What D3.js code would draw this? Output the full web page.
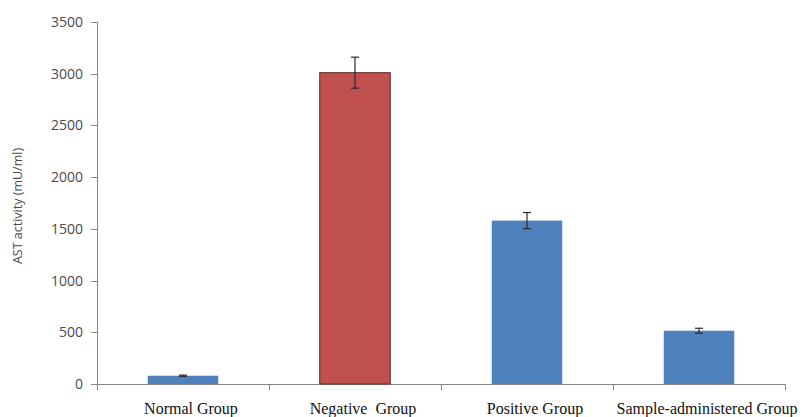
<!DOCTYPE html>
<html lang="en">
<head>
    <meta charset="UTF-8">
    <title>AST activity</title>
    <script src="https://d3js.org/d3.v7.min.js"></script>
    <style>
        body { margin: 0; background: #fff; }
        .axis path, .axis line { fill: none; stroke: #868686; shape-rendering: crispEdges; }
        .axis--y text { font-family: "Open Sans", sans-serif; font-size: 14px; fill: #4a4a4a; }
        .axis--x text { font-family: "Liberation Serif", "Times New Roman", serif; font-size: 16px; fill: #111; }
        .ylabel { font-family: "Open Sans", sans-serif; font-size: 12.5px; fill: #4a4a4a; }
    </style>
</head>
<body>
    <svg id="chart" width="809" height="417"></svg>

    <script>
        // data
        var groups = ["Normal Group", "Negative  Group", "Positive Group", "Sample-administered Group"];
        var values = [80, 3010, 1580, 515];
        var errors = [6, 150, 78, 24];
        var colors = ["#4f81bd", "#c0504d", "#4f81bd", "#4f81bd"];
        var yTicks = [0, 500, 1000, 1500, 2000, 2500, 3000, 3500];

        var data = groups.map(function(g, i) {
            return { group: g, value: values[i], err: errors[i], color: colors[i] };
        });

        var svg = d3.select("#chart"),
            margin = {top: 22, right: 24, bottom: 33, left: 97},
            width = +svg.attr("width") - margin.left - margin.right,
            height = +svg.attr("height") - margin.top - margin.bottom;

        var x = d3.scaleBand().domain(groups).range([0, width]).padding(0),
            y = d3.scaleLinear().domain([0, 3500]).range([height, 0]);

        var barW = x.bandwidth() * 0.41;

        var g = svg.append("g")
            .attr("transform", "translate(" + margin.left + "," + margin.top + ")");

        // y axis
        g.append("g")
            .attr("class", "axis axis--y")
            .call(d3.axisLeft(y).tickValues(yTicks).tickSize(6).tickPadding(8).tickFormat(d3.format("d")));

        // x axis: ticks at category boundaries
        var xAxis = g.append("g")
            .attr("class", "axis axis--x")
            .attr("transform", "translate(0," + height + ")");
        xAxis.append("line").attr("x1", 0).attr("x2", width);
        xAxis.selectAll(".bound")
            .data(d3.range(groups.length + 1))
            .enter().append("line")
            .attr("class", "bound")
            .attr("x1", function(i) { return i * x.step(); })
            .attr("x2", function(i) { return i * x.step(); })
            .attr("y1", 0).attr("y2", 6);
        xAxis.selectAll("text")
            .data(groups)
            .enter().append("text")
            .attr("x", function(d) { return x(d) + x.bandwidth() / 2 + 8; })
            .attr("y", 30)
            .attr("text-anchor", "middle")
            .style("white-space", "pre")
            .text(function(d) { return d; });

        // bars
        g.selectAll(".bar")
            .data(data)
            .enter().append("rect")
            .attr("class", "bar")
            .attr("x", function(d) { return x(d.group) + (x.bandwidth() - barW) / 2; })
            .attr("y", function(d) { return y(d.value); })
            .attr("width", barW)
            .attr("height", function(d) { return height - y(d.value); })
            .attr("fill", function(d) { return d.color; })
            .attr("stroke", function(d) { return d.color === "#c0504d" ? "#5a2a28" : "none"; })
            .attr("stroke-width", 1);

        // error bars
        var eb = g.selectAll(".err")
            .data(data)
            .enter().append("g")
            .attr("class", "err")
            .attr("stroke", "#2a2a2a")
            .attr("stroke-width", 1.2);
        eb.append("line")
            .attr("x1", function(d) { return x(d.group) + x.bandwidth() / 2; })
            .attr("x2", function(d) { return x(d.group) + x.bandwidth() / 2; })
            .attr("y1", function(d) { return y(d.value + d.err); })
            .attr("y2", function(d) { return y(d.value - d.err); });
        eb.selectAll(".cap")
            .data(function(d) { return [d.value + d.err, d.value - d.err].map(function(v) { return {g: d.group, v: v}; }); })
            .enter().append("line")
            .attr("class", "cap")
            .attr("x1", function(c) { return x(c.g) + x.bandwidth() / 2 - 4; })
            .attr("x2", function(c) { return x(c.g) + x.bandwidth() / 2 + 4; })
            .attr("y1", function(c) { return y(c.v); })
            .attr("y2", function(c) { return y(c.v); });

        // Y-axis label
        svg.append("text")
            .attr("class", "ylabel")
            .attr("transform", "translate(22," + (margin.top + height / 2 + 3) + ") rotate(-90)")
            .attr("text-anchor", "middle")
            .text("AST activity (mU/ml)");
    </script>
</body>
</html>
